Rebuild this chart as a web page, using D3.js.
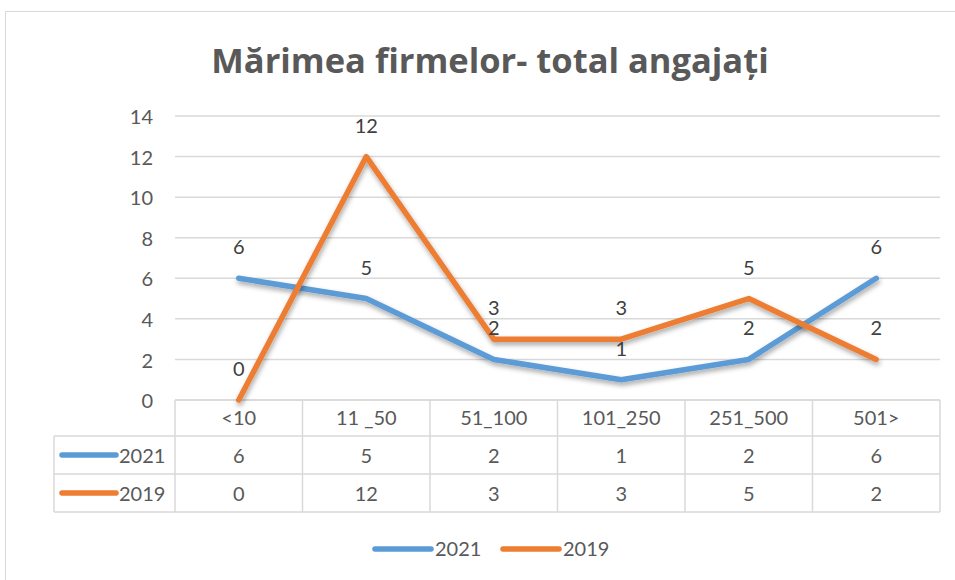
<!DOCTYPE html>
<html>
<head>
<meta charset="utf-8">
<script src="https://cdn.jsdelivr.net/npm/d3@7"></script>
<style>
  body { margin: 0; background: #fff; }
  svg { display: block; font-family: Lato, "Open Sans", sans-serif; }
</style>
</head>
<body>
<svg width="955" height="580"></svg>
<script>
const categories = ['<10', '11 _50', '51_100', '101_250', '251_500', '501>'];
const values2021 = [6, 5, 2, 1, 2, 6];
const values2019 = [0, 12, 3, 3, 5, 2];
const yTicks = [0, 2, 4, 6, 8, 10, 12, 14];
const seriesNames = ['2021', '2019'];
const colors = ['#5B9BD5', '#ED7D31'];

const svg = d3.select('svg');
const margin = { left: 175, right: 940, top: 116, bottom: 400 };
const fs = 20;

// chart frame
svg.append('rect')
  .attr('x', 5.5).attr('y', 11.5)
  .attr('width', 970).attr('height', 600)
  .attr('fill', 'none').attr('stroke', '#d9d9d9');

// shadow for the lines
const defs = svg.append('defs');
const f = defs.append('filter').attr('id', 'shadow')
  .attr('x', '-10%').attr('y', '-10%').attr('width', '120%').attr('height', '130%');
f.append('feDropShadow')
  .attr('dx', 1).attr('dy', 3).attr('stdDeviation', 2.5)
  .attr('flood-color', '#000').attr('flood-opacity', 0.35);

svg.append('text')
  .attr('x', 490).attr('y', 73)
  .attr('text-anchor', 'middle')
  .attr('font-family', '"Open Sans", Lato, sans-serif')
  .attr('font-size', 34.5).attr('font-weight', 'bold')
  .attr('fill', '#595959')
  .text('Mărimea firmelor- total angajați');

const x = d3.scaleBand().domain(categories).range([margin.left, margin.right]);
const y = d3.scaleLinear().domain([0, 14]).range([margin.bottom, margin.top]);

// gridlines
svg.append('g').selectAll('line').data(yTicks).join('line')
  .attr('x1', margin.left).attr('x2', margin.right)
  .attr('y1', d => y(d)).attr('y2', d => y(d))
  .attr('stroke', '#d9d9d9').attr('stroke-width', 1.5);

// y axis labels
const yAxis = d3.axisLeft(y).tickValues(yTicks).tickSize(0).tickPadding(0);
svg.append('g')
  .attr('transform', 'translate(153,0)')
  .call(yAxis)
  .call(g => g.select('.domain').remove())
  .call(g => g.selectAll('text')
    .attr('font-family', 'Lato, "Open Sans", sans-serif')
    .attr('dy', '0.38em')
    .attr('font-size', fs).attr('fill', '#595959'));

// data table
const rowTop = [400, 436, 474, 512];
const table = svg.append('g').attr('stroke', '#d9d9d9').attr('stroke-width', 1.5);
table.append('line').attr('x1', margin.left).attr('x2', margin.right)
  .attr('y1', rowTop[0]).attr('y2', rowTop[0]);
[1, 2, 3].forEach(i => {
  table.append('line').attr('x1', 54).attr('x2', margin.right)
    .attr('y1', rowTop[i]).attr('y2', rowTop[i]);
});
table.append('line').attr('x1', 54).attr('x2', 54)
  .attr('y1', rowTop[1]).attr('y2', rowTop[3]);
const cuts = categories.map(c => x(c)).concat([margin.right]);
table.selectAll('.v').data(cuts).join('line')
  .attr('x1', d => d).attr('x2', d => d)
  .attr('y1', rowTop[0]).attr('y2', rowTop[3]);

const cellText = svg.append('g')
  .attr('font-size', fs).attr('fill', '#595959').attr('text-anchor', 'middle');
cellText.selectAll('.cat').data(categories).join('text')
  .attr('x', d => x(d) + x.bandwidth() / 2).attr('y', 425)
  .text(d => d);
[values2021, values2019].forEach((vals, i) => {
  cellText.selectAll('.v' + i).data(vals).join('text')
    .attr('x', (d, j) => x(categories[j]) + x.bandwidth() / 2)
    .attr('y', (rowTop[i + 1] + rowTop[i + 2]) / 2 + 8)
    .text(d => d);
  const ky = (rowTop[i + 1] + rowTop[i + 2]) / 2;
  svg.append('line')
    .attr('x1', 62).attr('x2', 116).attr('y1', ky).attr('y2', ky)
    .attr('stroke', colors[i]).attr('stroke-width', 5.5).attr('stroke-linecap', 'round');
  svg.append('text')
    .attr('x', 119).attr('y', ky + 8)
    .attr('font-size', fs).attr('fill', '#595959')
    .text(seriesNames[i]);
});

// lines
const line = d3.line()
  .x((d, i) => x(categories[i]) + x.bandwidth() / 2)
  .y(d => y(d));
[values2021, values2019].forEach((vals, i) => {
  svg.append('path')
    .datum(vals)
    .attr('d', line)
    .attr('fill', 'none')
    .attr('stroke', colors[i]).attr('stroke-width', 5.5)
    .attr('stroke-linejoin', 'round').attr('stroke-linecap', 'round')
    .attr('filter', 'url(#shadow)');
});

// data labels
[values2021, values2019].forEach((vals, i) => {
  svg.append('g').selectAll('text').data(vals).join('text')
    .attr('x', (d, j) => x(categories[j]) + x.bandwidth() / 2)
    .attr('y', d => y(d) - 24)
    .attr('text-anchor', 'middle')
    .attr('font-size', fs).attr('fill', '#404040')
    .text(d => d);
});

// legend
const legend = svg.append('g').attr('transform', 'translate(375,549)');
seriesNames.forEach((name, i) => {
  const lg = legend.append('g').attr('transform', `translate(${i * 128},0)`);
  lg.append('line').attr('x1', 0).attr('x2', 56)
    .attr('stroke', colors[i]).attr('stroke-width', 5.5).attr('stroke-linecap', 'round');
  lg.append('text').attr('x', 60).attr('y', 7)
    .attr('font-size', fs).attr('fill', '#595959').text(name);
});
</script>
</body>
</html>
